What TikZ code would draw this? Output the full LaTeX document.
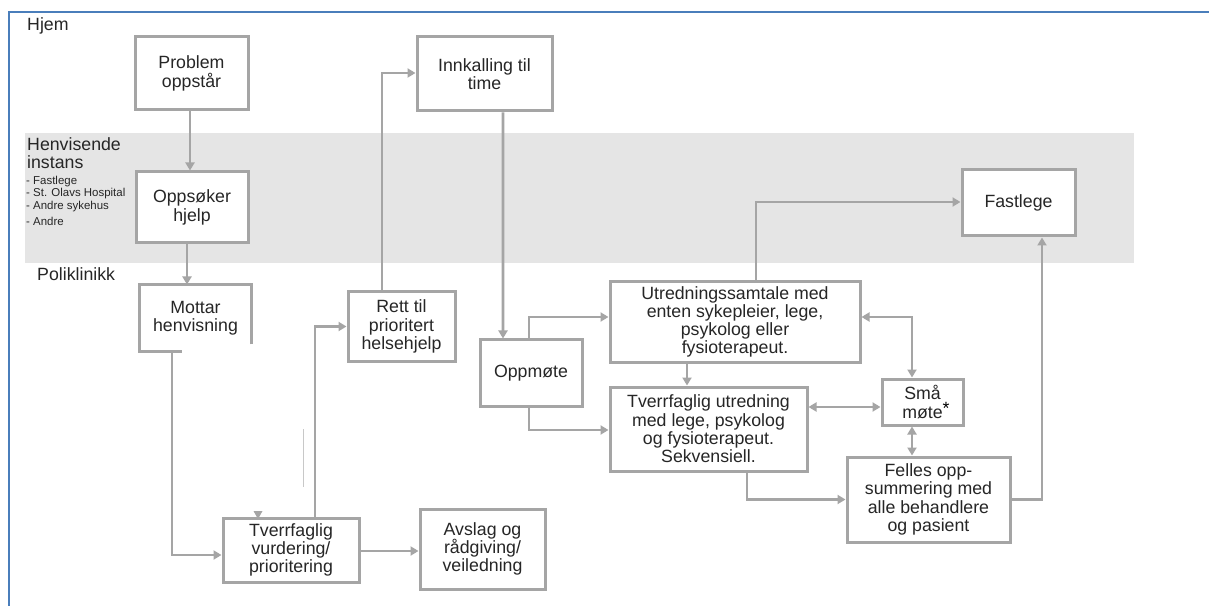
\documentclass[tikz,border=0pt]{standalone}
\usepackage{fontspec}
\setmainfont{Liberation Sans}
\usetikzlibrary{arrows.meta,calc}
\definecolor{linegray}{HTML}{A5A5A5}
\definecolor{bandgray}{HTML}{E5E5E5}
\definecolor{framebl}{HTML}{4A7EBB}
\definecolor{txt}{HTML}{262626}
\definecolor{faint}{HTML}{C8C8C8}
\begin{document}
\begin{tikzpicture}[x=1bp,y=-1bp,
  box/.style={draw=linegray, line width=3bp, fill=white, align=center,
    inner sep=0pt, text=txt, font=\fontsize{17.8}{18.3}\selectfont},
  conn/.style={draw=linegray, line width=2.8bp},
  tip/.tip={Triangle[length=8bp,width=9bp]},
  arr/.style={conn, -tip},
  darr/.style={conn, tip-tip},
  lbl/.style={inner sep=0pt, text=txt, anchor=base west, font=\fontsize{17.8}{18.3}\selectfont},
  small/.style={inner sep=0pt, text=txt, anchor=base west, font=\fontsize{11.5}{12}\selectfont}]

\useasboundingbox (0,0) rectangle (1209,606);
\fill[white] (0,0) rectangle (1209,606);

% referring-instance band
\fill[bandgray] (25,133) rectangle (1134,263);

% frame
\draw[framebl, line width=2.6bp] (9,606) -- (9,12) -- (1209,12);

% lane labels
\node[lbl] (hjem) at (27,31) {Hjem};
\node[lbl] (henv1) at (27,151) {Henvisende};
\node[lbl] (henv2) at (27,169) {instans};
\node[small] (i1) at (26,184.5) {- Fastlege};
\node[small] (i2) at (26,197) {- St. Olavs Hospital};
\node[small] (i3) at (26,209.5) {- Andre sykehus};
\node[small] (i4) at (26,226) {- Andre};
\node[lbl] (poli) at (37,281) {Poliklinikk};

% boxes
\node[box, minimum width=113bp, minimum height=73bp] (prob) at (191.5,73.5) {Problem\\oppstår};
\node[box, minimum width=112bp, minimum height=71bp] (opps) at (192,207.5) {Oppsøker\\hjelp};
\node[box, draw=none, minimum width=109bp, minimum height=64bp] (mott) at (195.5,318) {Mottar\\henvisning};
\node[box, minimum width=136bp, minimum height=64bp] (tvv) at (291,550) {Tverrfaglig\\vurdering/\\prioritering};
\node[box, minimum width=107bp, minimum height=69bp] (rett) at (401.5,326.5) {Rett til\\prioritert\\helsehjelp};
\node[box, minimum width=135bp, minimum height=74bp] (innk) at (484.5,74) {Innkalling til\\time};
\node[box, minimum width=102bp, minimum height=66bp] (oppm) at (531,373) {Oppmøte};
\node[box, minimum width=250bp, minimum height=80bp] (utr) at (735,322) {Utredningssamtale med\\enten sykepleier, lege,\\psykolog eller\\fysioterapeut.};
\node[box, minimum width=197bp, minimum height=84bp] (tvu) at (708.5,429) {Tverrfaglig utredning\\med lege, psykolog\\og fysioterapeut.\\Sekvensiell.};
\node[box, minimum width=81bp, minimum height=46bp] (sma) at (922.5,402) {Små\\møte\rlap{\raisebox{4bp}{\textcolor{black}{*}}}};
\node[box, minimum width=163bp, minimum height=85bp] (fel) at (928.5,499.5) {Felles opp-\\summering med\\alle behandlere\\og pasient};
\node[box, minimum width=113bp, minimum height=66bp] (fast) at (1018.5,203) {Fastlege};
\node[box, minimum width=125bp, minimum height=80bp] (avs) at (482.5,549) {Avslag og\\rådgiving/\\veiledning};

% open outline of the "Mottar henvisning" box
\draw[linegray, line width=3bp]
  ($(mott.north east)+(0,60)$) -- (mott.north east) -- (mott.north west)
  -- (mott.south west) -- ($(mott.south west)+(42,0)$);

% connectors
\draw[arr] ($(prob.south)+(-1.5,0)$) -- ($(opps.north)+(-2,0)$);
\draw[arr] ($(opps.south)+(-5,0)$) -- ($(mott.north)+(-8.5,0)$);
\draw[arr] ($(mott.south)+(-23.5,0)$) |- ($(tvv.west)+(0,5)$);
\draw[arr] ($(tvv.north)+(24,0)$) |- (rett.west);
\draw[arr] ($(rett.north)+(-19.5,0)$) |- ($(innk.west)+(0,-1)$);
\draw[arr] ($(innk.south)+(18.5,0)$) -- ($(oppm.north)+(-28,0)$);
\draw[arr] ($(oppm.north)+(-2,0)$) |- ($(utr.west)+(0,-5)$);
\draw[arr] ($(oppm.south)+(-2,0)$) |- ($(tvu.west)+(0,1)$);
\draw[arr] ($(utr.south)+(-48,0)$) -- ($(tvu.north)+(-21.5,0)$);
\draw[darr] ($(tvu.east)+(0,-22)$) -- ($(sma.west)+(0,5)$);
\draw[darr] ($(utr.east)+(0,-5)$) -| ($(sma.north)+(-10.5,0)$);
\draw[darr] ($(sma.south)+(-10.5,0)$) -- ($(fel.north)+(-16.5,0)$);
\draw[arr] ($(tvu.south)+(38.5,0)$) |- (fel.west);
\draw[arr] (fel.east) -| ($(fast.south)+(23.5,0)$);
\draw[arr] ($(utr.north)+(21,0)$) |- ($(fast.west)+(0,-1)$);
\draw[arr] ($(tvv.east)+(0,1)$) -- ($(avs.west)+(0,2)$);

% loose marks near "Tverrfaglig vurdering/prioritering"
\fill[linegray] (253.5,511) -- (262.5,511) -- (258,519) -- cycle;
\draw[faint, line width=1bp] (303,429) -- (303,487);
\end{tikzpicture}
\end{document}
